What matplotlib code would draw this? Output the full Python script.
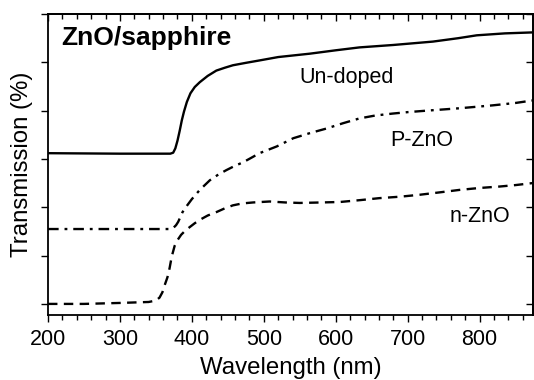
import matplotlib
matplotlib.use('Agg')
import matplotlib.pyplot as plt
from matplotlib.ticker import MultipleLocator, NullFormatter

plt.rcParams['font.family'] = ['Liberation Sans', 'DejaVu Sans']

# wavelength (nm) and transmission (arb. offset units)
undoped_wl = [200, 300, 370, 374, 377, 380, 383, 386, 389, 393, 398, 404, 411, 422, 434, 446,
              457, 475, 494, 520, 564, 600, 633, 680, 735, 770, 796, 835, 873]
undoped_t = [3.12, 3.11, 3.11, 3.13, 3.22, 3.38, 3.58, 3.8, 3.98, 4.18, 4.36, 4.49, 4.59, 4.72, 4.83, 4.89,
             4.94, 4.99, 5.04, 5.11, 5.18, 5.25, 5.31, 5.36, 5.43, 5.5, 5.56, 5.6, 5.62]

pzno_wl = [200, 370, 374, 378, 381, 384, 387, 393, 400, 411, 425, 437, 448, 460, 471, 482,
           494, 518, 541, 565, 587, 610, 633, 655, 679, 700, 726, 772, 818, 850, 873]
pzno_t = [1.55, 1.55, 1.57, 1.63, 1.7, 1.8, 1.9, 2.03, 2.17, 2.36, 2.56, 2.68, 2.77, 2.86, 2.93, 3.02,
          3.12, 3.26, 3.43, 3.54, 3.63, 3.74, 3.84, 3.9, 3.94, 3.97, 4.0, 4.05, 4.11, 4.16, 4.21]

nzno_wl = [200, 250, 300, 340, 350, 355, 359, 362, 366, 369, 372, 376, 380, 385, 391, 397,
           404, 411, 422, 434, 446, 457, 470, 485, 508, 530, 550, 580, 606, 635, 661, 690,
           717, 745, 772, 800, 828, 850, 873]
nzno_t = [0.0, 0.0, 0.02, 0.04, 0.07, 0.13, 0.24, 0.38, 0.55, 0.74, 0.98, 1.2, 1.32, 1.43, 1.52, 1.59,
          1.67, 1.74, 1.83, 1.9, 1.98, 2.04, 2.08, 2.1, 2.12, 2.1, 2.09, 2.1, 2.11, 2.15, 2.19, 2.22,
          2.26, 2.31, 2.36, 2.4, 2.43, 2.46, 2.5]

fig = plt.figure(figsize=(5.34, 3.8), dpi=100)
ax = fig.add_axes([0.0899, 0.171, 0.908, 0.792])

ax.plot(undoped_wl, undoped_t, color='black', lw=1.7, ls='-')
ax.plot(pzno_wl, pzno_t, color='black', lw=1.7, ls=(0, (4.5, 2.5, 1.2, 2.5)))
ax.plot(nzno_wl, nzno_t, color='black', lw=1.7, ls=(0, (4, 2.7)))

ax.set_xlim(200, 874)
ax.set_ylim(-0.23, 6.0)

ax.xaxis.set_major_locator(MultipleLocator(100))
ax.xaxis.set_minor_locator(MultipleLocator(20))
ax.yaxis.set_major_locator(MultipleLocator(1))
ax.yaxis.set_major_formatter(NullFormatter())

ax.tick_params(axis='x', which='major', direction='out', length=5, width=1, labelsize=15.5, pad=5)
ax.tick_params(axis='x', which='minor', direction='out', length=3.5, width=1)
ax.tick_params(axis='y', which='major', direction='out', length=5, width=1)

# top and right ticks point inward
top = ax.secondary_xaxis('top')
top.xaxis.set_major_locator(MultipleLocator(100))
top.xaxis.set_minor_locator(MultipleLocator(20))
top.tick_params(which='major', direction='in', length=5, width=1, labeltop=False)
top.tick_params(which='minor', direction='in', length=3.5, width=1)
right = ax.secondary_yaxis('right')
right.yaxis.set_major_locator(MultipleLocator(1))
right.tick_params(direction='in', length=5, width=1, labelright=False)

for a in (ax, top, right):
    for s in a.spines.values():
        s.set_linewidth(1.3)

ax.set_xlabel('Wavelength (nm)', fontsize=17.3)
ax.xaxis.label.set_va('center')
ax.xaxis.set_label_coords(0.5, -0.176)
ax.set_ylabel('Transmission (%)', fontsize=17.3)
ax.yaxis.label.set_va('center')
ax.yaxis.set_label_coords(-0.054, 0.5)

ax.text(219, 5.5, 'ZnO/sapphire', fontsize=19, fontweight='bold', va='center', ha='left')
ax.text(615, 4.69, 'Un-doped', fontsize=15.5, ha='center', va='center')
ax.text(720, 3.39, 'P-ZnO', fontsize=15.5, ha='center', va='center')
ax.text(801, 1.8, 'n-ZnO', fontsize=15.5, ha='center', va='center')

fig.savefig('out.png', dpi=100)
